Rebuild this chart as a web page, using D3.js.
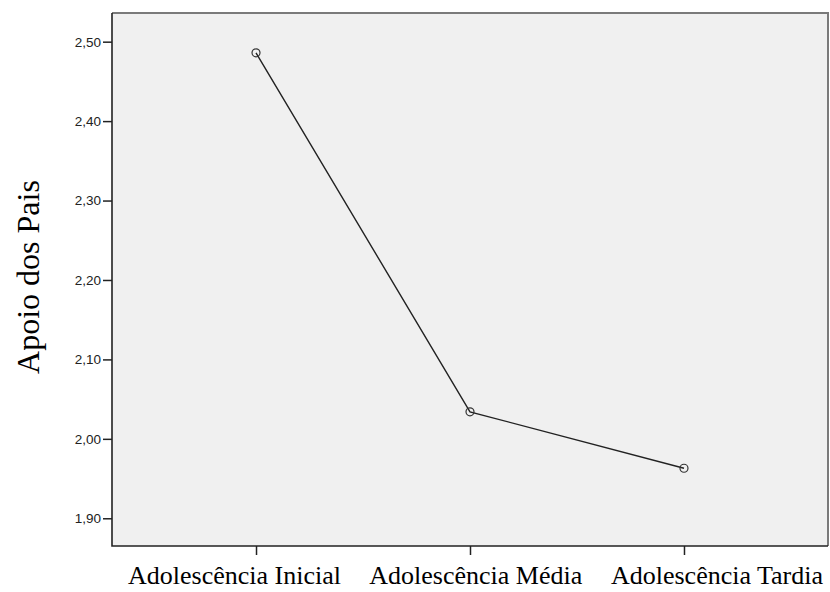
<!DOCTYPE html>
<html>
<head>
<meta charset="utf-8">
<script src="https://cdn.jsdelivr.net/npm/d3@7"></script>
<style>
  html, body { margin: 0; padding: 0; background: #fff; }
  svg { display: block; }
</style>
</head>
<body>
<svg id="chart" width="830" height="592"></svg>
<script>
// ---- data ----
const categories = ["Adolescência Inicial", "Adolescência Média", "Adolescência Tardia"];
const values = [2.486, 2.034, 1.963];
const yTicks = [1.90, 2.00, 2.10, 2.20, 2.30, 2.40, 2.50];
const yLabel = "Apoio dos Pais";

// ---- layout ----
const W = 830, H = 592;
const plot = { left: 112, right: 828, top: 13, bottom: 546 };

const svg = d3.select("#chart");

const x = d3.scalePoint()
  .domain(categories)
  .range([plot.left, plot.right])
  .padding(0.673);

const y = d3.scaleLinear()
  .domain([1.8651, 2.5361])
  .range([plot.bottom, plot.top]);

// label positions (SPSS spreads labels wider than ticks)
const xLab = d3.scalePoint()
  .domain(categories)
  .range([234.5, 717]);

// plot background
svg.append("rect")
  .attr("x", plot.left).attr("y", plot.top)
  .attr("width", plot.right - plot.left)
  .attr("height", plot.bottom - plot.top)
  .attr("fill", "#f0f0f0");

// frame top & right (gray)
svg.append("path")
  .attr("d", `M${plot.left},${plot.top}H${plot.right}V${plot.bottom}`)
  .attr("fill", "none")
  .attr("stroke", "#7a7a7a")
  .attr("stroke-width", 2);

// y axis
const yAxis = svg.append("g")
  .attr("transform", `translate(${plot.left},0)`)
  .call(d3.axisLeft(y).tickValues(yTicks).tickSize(9).tickPadding(2)
    .tickFormat(d => d3.format(".2f")(d).replace(".", ",")).tickSizeOuter(0));
yAxis.select(".domain").remove();
yAxis.selectAll(".tick line").attr("stroke", "#222").attr("stroke-width", 1.5);
yAxis.selectAll(".tick text")
  .attr("font-family", "Arial, 'Liberation Sans', sans-serif")
  .attr("font-size", 13.5)
  .attr("fill", "#222");

// x axis ticks
const xAxis = svg.append("g")
  .attr("transform", `translate(0,${plot.bottom})`)
  .call(d3.axisBottom(x).tickSize(9).tickSizeOuter(0).tickFormat(""));
xAxis.select(".domain").remove();
xAxis.selectAll(".tick line").attr("stroke", "#222").attr("stroke-width", 1.5);

// left & bottom frame (dark)
svg.append("path")
  .attr("d", `M${plot.left},${plot.top}V${plot.bottom}H${plot.right}`)
  .attr("fill", "none")
  .attr("stroke", "#222")
  .attr("stroke-width", 1.6);

// x labels
svg.append("g").selectAll("text")
  .data(categories)
  .join("text")
  .attr("x", d => xLab(d))
  .attr("y", 584)
  .attr("text-anchor", "middle")
  .attr("font-family", "'Times New Roman', 'Liberation Serif', serif")
  .attr("font-size", 26)
  .attr("fill", "#000")
  .text(d => d);

// y label
svg.append("text")
  .attr("transform", `translate(39,${277}) rotate(-90)`)
  .attr("text-anchor", "middle")
  .attr("font-family", "'Times New Roman', 'Liberation Serif', serif")
  .attr("font-size", 32)
  .attr("fill", "#000")
  .text(yLabel);

// line
const pts = categories.map((c, i) => [x(c), y(values[i])]);
svg.append("path")
  .attr("d", d3.line()(pts))
  .attr("fill", "none")
  .attr("stroke", "#222")
  .attr("stroke-width", 1.4);

// markers
svg.append("g").selectAll("circle")
  .data(pts)
  .join("circle")
  .attr("cx", d => d[0])
  .attr("cy", d => d[1])
  .attr("r", 4)
  .attr("fill", "none")
  .attr("stroke", "#333")
  .attr("stroke-width", 1.2);
</script>
</body>
</html>
